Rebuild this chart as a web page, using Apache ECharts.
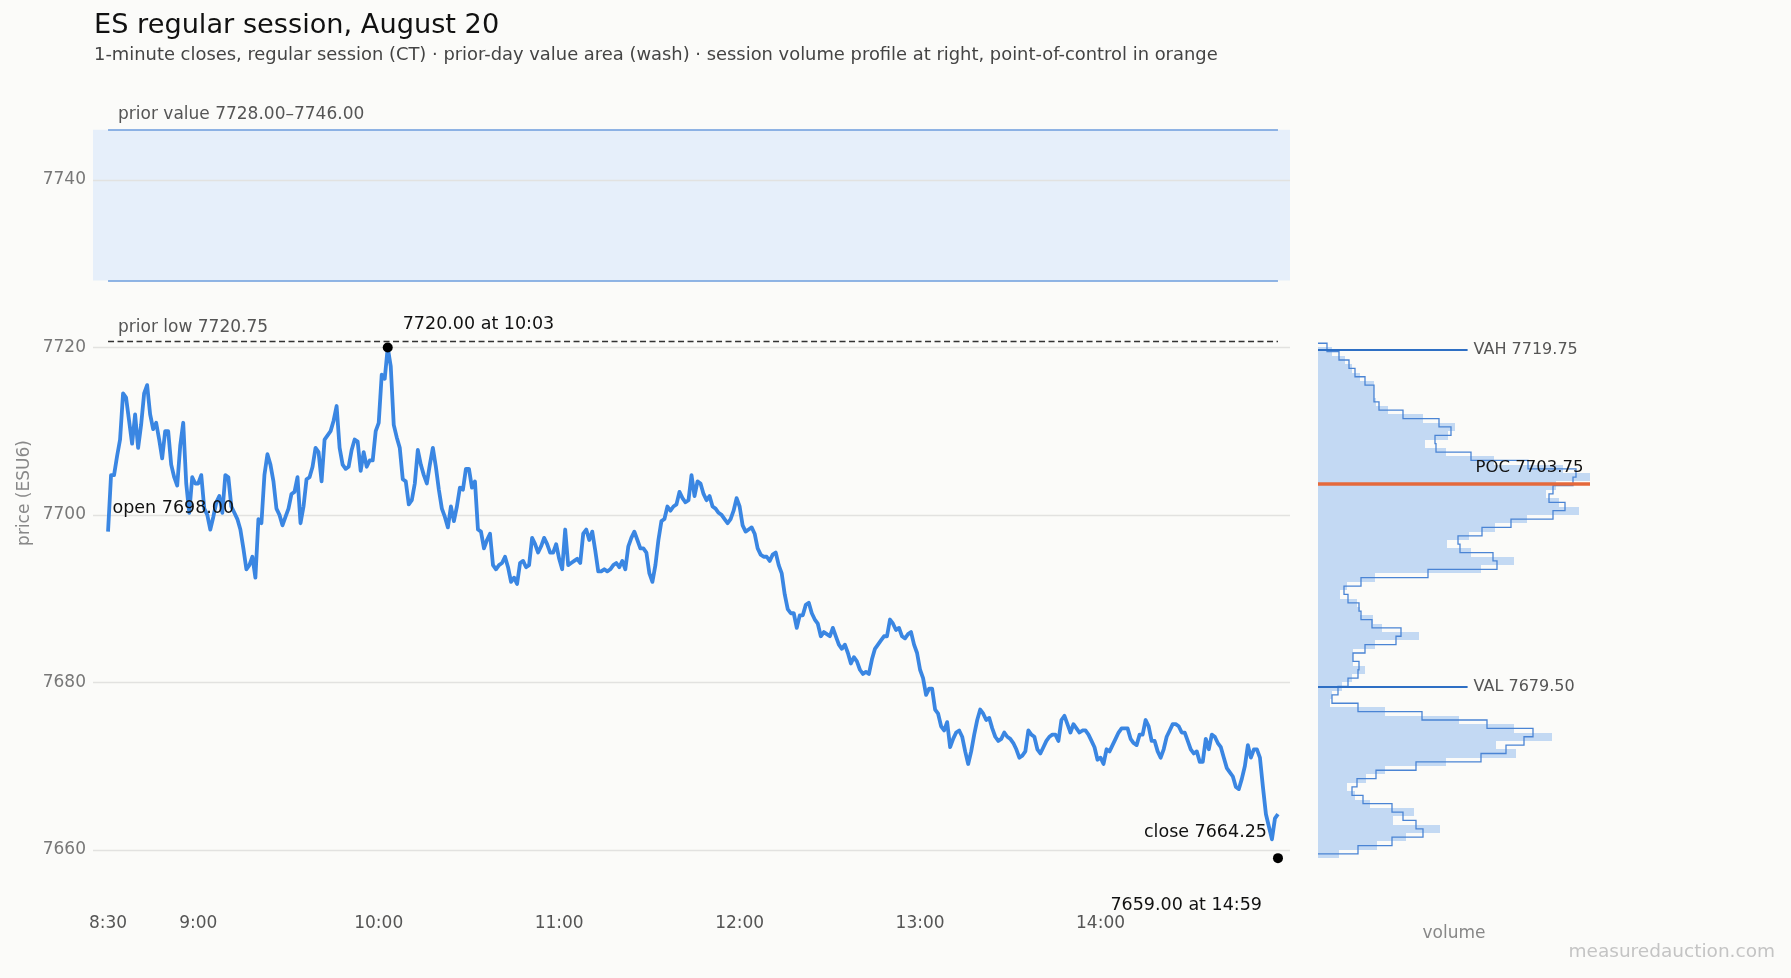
<!DOCTYPE html>
<html>
<head>
<meta charset="utf-8">
<title>ES regular session, August 20</title>
<script src="https://cdn.jsdelivr.net/npm/echarts@6.0.0/dist/echarts.min.js"></script>
<style>
  html, body { margin: 0; padding: 0; background: #fbfbf9; }
  #chart { width: 1791px; height: 978px; }
</style>
</head>
<body>
<div id="chart"></div>
<script>
// ES regular session, 1-minute closes from 8:30 (minute 0) to 14:59 (minute 389)

var closes = [
    7698.00, 7704.75, 7704.75, 7707.00, 7709.00, 7714.50, 7714.00, 7711.25, 7708.50, 7712.00,
    7708.00, 7710.75, 7714.50, 7715.50, 7712.00, 7710.25, 7711.00, 7709.00, 7706.75, 7710.00,
    7710.00, 7706.00, 7704.50, 7703.50, 7708.25, 7711.00, 7703.75, 7700.25, 7704.50, 7703.75,
    7703.75, 7704.75, 7700.75, 7700.00, 7698.25, 7699.75, 7701.50, 7702.25, 7700.25, 7704.75,
    7704.50, 7701.00, 7700.25, 7699.50, 7698.25, 7696.00, 7693.50, 7694.00, 7695.00, 7692.50,
    7699.50, 7699.00, 7704.75, 7707.25, 7706.00, 7704.00, 7700.75, 7700.00, 7698.75, 7699.75,
    7700.75, 7702.50, 7702.75, 7704.50, 7699.00, 7701.00, 7704.25, 7704.50, 7705.75, 7708.00,
    7707.50, 7704.00, 7709.00, 7709.50, 7710.00, 7711.25, 7713.00, 7708.00, 7706.00, 7705.50,
    7705.75, 7707.75, 7709.00, 7708.75, 7705.25, 7707.50, 7705.75, 7706.50, 7706.50, 7710.00,
    7711.00, 7716.75, 7716.25, 7720.00, 7717.75, 7710.75, 7709.25, 7708.00, 7704.25, 7704.00,
    7701.25, 7701.75, 7703.75, 7707.75, 7706.00, 7704.75, 7703.75, 7706.00, 7708.00, 7705.75,
    7703.00, 7700.75, 7699.75, 7698.50, 7701.00, 7699.25, 7701.00, 7703.25, 7703.00, 7705.50,
    7705.50, 7703.25, 7704.00, 7698.25, 7698.00, 7696.00, 7697.00, 7697.75, 7694.00, 7693.50,
    7694.00, 7694.25, 7695.00, 7693.75, 7692.00, 7692.50, 7691.75, 7694.25, 7694.50, 7693.75,
    7694.00, 7697.25, 7696.50, 7695.50, 7696.25, 7697.25, 7696.50, 7695.50, 7695.50, 7696.50,
    7694.75, 7693.50, 7698.25, 7694.00, 7694.25, 7694.50, 7694.75, 7694.25, 7697.75, 7698.25,
    7697.00, 7698.00, 7695.75, 7693.25, 7693.25, 7693.50, 7693.25, 7693.50, 7694.00, 7694.25,
    7693.75, 7694.50, 7693.50, 7696.25, 7697.25, 7698.00, 7697.00, 7696.00, 7696.00, 7695.50,
    7693.00, 7692.00, 7694.00, 7697.00, 7699.25, 7699.50, 7701.00, 7700.50, 7701.00, 7701.25,
    7702.75, 7702.00, 7701.50, 7701.75, 7704.75, 7702.25, 7704.00, 7703.75, 7702.50, 7701.75,
    7702.25, 7701.00, 7700.75, 7700.25, 7700.00, 7699.50, 7699.00, 7699.50, 7700.50, 7702.00,
    7701.00, 7698.75, 7698.00, 7698.25, 7698.50, 7697.75, 7696.00, 7695.25, 7695.00, 7695.00,
    7694.50, 7695.25, 7695.50, 7694.00, 7693.00, 7690.50, 7688.75, 7688.25, 7688.25, 7686.50,
    7688.00, 7688.00, 7689.25, 7689.50, 7688.25, 7687.50, 7687.00, 7685.50, 7686.00, 7685.75,
    7685.50, 7686.50, 7685.50, 7684.50, 7684.00, 7684.50, 7683.50, 7682.25, 7683.00, 7682.50,
    7681.50, 7681.00, 7681.25, 7681.00, 7682.75, 7684.00, 7684.50, 7685.00, 7685.50, 7685.50,
    7687.50, 7687.00, 7686.25, 7686.50, 7685.50, 7685.25, 7685.75, 7686.00, 7684.50, 7683.50,
    7681.50, 7680.50, 7678.50, 7679.25, 7679.25, 7676.75, 7676.25, 7674.75, 7674.25, 7675.25,
    7672.25, 7673.25, 7674.00, 7674.25, 7673.50, 7671.75, 7670.25, 7671.75, 7673.75, 7675.50,
    7676.75, 7676.25, 7675.50, 7675.75, 7674.50, 7673.50, 7673.00, 7673.25, 7674.00, 7673.50,
    7673.25, 7672.75, 7672.00, 7671.00, 7671.25, 7671.75, 7674.25, 7673.75, 7673.50, 7672.00,
    7671.50, 7672.25, 7673.00, 7673.50, 7673.75, 7673.75, 7673.00, 7675.50, 7676.00, 7675.00,
    7674.00, 7675.00, 7674.50, 7674.00, 7674.25, 7674.25, 7673.75, 7673.00, 7672.25, 7670.75,
    7671.00, 7670.25, 7672.00, 7671.75, 7672.50, 7673.25, 7674.00, 7674.50, 7674.50, 7674.50,
    7673.25, 7672.75, 7672.50, 7673.75, 7673.75, 7675.50, 7674.75, 7673.00, 7673.00, 7671.75,
    7671.00, 7672.00, 7673.50, 7674.25, 7675.00, 7675.00, 7674.75, 7674.00, 7674.00, 7673.00,
    7672.00, 7671.50, 7671.75, 7670.50, 7670.50, 7673.25, 7672.00, 7673.75, 7673.50, 7672.75,
    7672.25, 7671.00, 7669.75, 7669.25, 7668.75, 7667.50, 7667.25, 7668.50, 7670.00, 7672.50,
    7671.00, 7672.00, 7672.00, 7671.00, 7667.50, 7664.25, 7662.75, 7661.25, 7663.75, 7664.25
];

var timeTickMinutes = [0, 30, 90, 150, 210, 270, 330];
var timeTickLabels = ['8:30', '9:00', '10:00', '11:00', '12:00', '13:00', '14:00'];
var priceTicks = [7660, 7680, 7700, 7720, 7740];

var priorValueLow = 7728.00;
var priorValueHigh = 7746.00;
var priorLow = 7720.75;
var sessionHigh = [93, 7720.00];   // 10:03
var sessionLow = [389, 7659.00];   // 14:59
var openPrice = 7698.00;
var closePrice = 7664.25;

// session volume profile, 1-point buckets (lower edge of bucket), top to bottom
var profileLevels = [
    7719, 7718, 7717, 7716, 7715, 7714, 7713, 7712, 7711, 7710,
    7709, 7708, 7707, 7706, 7705, 7704, 7703, 7702, 7701, 7700,
    7699, 7698, 7697, 7696, 7695, 7694, 7693, 7692, 7691, 7690,
    7689, 7688, 7687, 7686, 7685, 7684, 7683, 7682, 7681, 7680,
    7679, 7678, 7677, 7676, 7675, 7674, 7673, 7672, 7671, 7670,
    7669, 7668, 7667, 7666, 7665, 7664, 7663, 7662, 7661, 7660, 7659
];
var profileVolume = [
    14, 27, 34, 42, 56, 56, 58, 70, 105, 137,
    130, 107, 128, 176, 245, 272, 238, 228, 241, 261,
    209, 177, 151, 129, 153, 196, 163, 57, 29, 22,
    39, 42, 55, 64, 101, 57, 35, 35, 47, 34,
    24, 14, 12, 67, 141, 196, 234, 178, 198, 128,
    67, 48, 29, 37, 52, 96, 75, 122, 88, 59, 21
];

// step outline of the profile, buckets centred on whole points
var outlineLevels = [
    7720, 7719, 7718, 7717, 7716, 7715, 7714, 7713, 7712, 7711,
    7710, 7709, 7708, 7707, 7706, 7705, 7704, 7703, 7702, 7701,
    7700, 7699, 7698, 7697, 7696, 7695, 7694, 7693, 7692, 7691,
    7690, 7689, 7688, 7687, 7686, 7685, 7684, 7683, 7682, 7681,
    7680, 7679, 7678, 7677, 7676, 7675, 7674, 7673, 7672, 7671,
    7670, 7669, 7668, 7667, 7666, 7665, 7664, 7663, 7662, 7661, 7660
];
var outlineVolume = [
    9, 21, 31, 37, 47, 56, 56, 61, 85, 121,
    133, 117, 118, 153, 210, 258, 255, 235, 231, 247,
    235, 193, 164, 140, 142, 175, 179, 110, 43, 26,
    30, 41, 43, 54, 83, 78, 47, 35, 41, 40,
    30, 20, 14, 40, 104, 169, 215, 206, 188, 163,
    98, 58, 39, 34, 45, 74, 85, 98, 105, 74, 40
];

var vah = 7719.75;
var val = 7679.50;
var poc = 7703.75;

var FONT = 'DejaVu Sans';
var Y_MIN = 7654, Y_MAX = 7748;

var chart = echarts.init(document.getElementById('chart'), null, {renderer: 'canvas'});

var priceData = closes.map(function (c, i) { return [i, c]; });
var profileData = profileLevels.map(function (lv, i) { return [lv, profileVolume[i]]; });
var profileMax = Math.max.apply(null, profileVolume);
var vaLineLen = profileMax * 0.55;

function minuteLabel(v) {
    var k = timeTickMinutes.indexOf(v);
    return k >= 0 ? timeTickLabels[k] : '';
}

var option = {
    backgroundColor: '#fbfbf9',
    animation: false,
    textStyle: {fontFamily: FONT},
    grid: [
        {left: 93, top: 113, width: 1197, height: 787},
        {left: 1318, top: 113, width: 272, height: 787}
    ],
    xAxis: [
        {
            type: 'value',
            gridIndex: 0,
            min: -5,
            max: 393,
            axisLine: {show: false},
            axisTick: {show: false},
            splitLine: {show: false},
            axisLabel: {
                customValues: timeTickMinutes,
                formatter: minuteLabel,
                color: '#555',
                fontSize: 17,
                fontFamily: FONT,
                margin: 15
            }
        },
        {
            type: 'value',
            gridIndex: 1,
            min: 0,
            max: profileMax,
            name: 'volume',
            nameLocation: 'middle',
            nameGap: 25,
            nameTextStyle: {color: '#888', fontSize: 17, fontFamily: FONT},
            axisLine: {show: false},
            axisTick: {show: false},
            axisLabel: {show: false},
            splitLine: {show: false}
        }
    ],
    yAxis: [
        {
            type: 'value',
            gridIndex: 0,
            min: Y_MIN,
            max: Y_MAX,
            axisLine: {show: false},
            axisTick: {show: false},
            splitLine: {show: false},
            axisLabel: {
                customValues: priceTicks,
                formatter: function (v) { return String(v); },
                color: '#777',
                fontSize: 17,
                fontFamily: FONT,
                margin: 7
            }
        },
        {
            type: 'value',
            gridIndex: 1,
            min: Y_MIN,
            max: Y_MAX,
            show: false,
            splitLine: {show: false}
        }
    ],
    series: [
        {
            // prior-day value area wash + grid lines
            name: 'prior value',
            type: 'line',
            xAxisIndex: 0,
            yAxisIndex: 0,
            data: [],
            silent: true,
            markArea: {
                z: 0,
                silent: true,
                itemStyle: {color: '#e6effa'},
                data: [[{yAxis: priorValueLow}, {yAxis: priorValueHigh}]]
            },
            markLine: {
                z: 1,
                silent: true,
                symbol: 'none',
                label: {show: false},
                lineStyle: {color: '#e2e2e0', width: 1.3, type: 'solid'},
                data: priceTicks.map(function (p) { return {yAxis: p}; })
            }
        },
        {
            name: 'levels',
            type: 'line',
            xAxisIndex: 0,
            yAxisIndex: 0,
            data: [],
            silent: true,
            markLine: {
                z: 2,
                silent: true,
                symbol: 'none',
                label: {show: false},
                data: [
                    [{coord: [0, priorValueHigh], lineStyle: {color: '#6d9ddd', width: 1.6, type: 'solid'}},
                        {coord: [closes.length - 1, priorValueHigh]}],
                    [{coord: [0, priorValueLow], lineStyle: {color: '#6d9ddd', width: 1.6, type: 'solid'}},
                        {coord: [closes.length - 1, priorValueLow]}],
                    [{coord: [0, priorLow], lineStyle: {color: '#333', width: 1.4, type: [6, 3.5]}},
                        {coord: [closes.length - 1, priorLow]}]
                ]
            }
        },
        {
            name: 'ESU6',
            type: 'line',
            xAxisIndex: 0,
            yAxisIndex: 0,
            data: priceData,
            showSymbol: false,
            z: 3,
            lineStyle: {color: '#3a86e2', width: 3.8, join: 'round'}
        },
        {
            name: 'extremes',
            type: 'scatter',
            xAxisIndex: 0,
            yAxisIndex: 0,
            data: [sessionHigh, sessionLow],
            symbolSize: 10,
            z: 4,
            itemStyle: {color: '#000', opacity: 1}
        },
        {
            // volume profile bars
            name: 'volume profile',
            type: 'custom',
            xAxisIndex: 1,
            yAxisIndex: 1,
            data: profileData,
            z: 2,
            renderItem: function (params, api) {
                var lo = api.value(0);
                var vol = api.value(1);
                var a = api.coord([0, lo + 1]);
                var b = api.coord([vol, lo]);
                var y0 = Math.round(a[1]);
                var y1 = Math.round(b[1]);
                return {
                    type: 'rect',
                    shape: {x: Math.round(a[0]), y: y0, width: b[0] - Math.round(a[0]), height: y1 - y0},
                    style: {fill: '#c3d9f3'}
                };
            },
            markLine: {
                z: 5,
                silent: true,
                symbol: 'none',
                data: [
                    [{coord: [0, vah], label: {formatter: 'VAH ' + vah.toFixed(2)}}, {coord: [vaLineLen, vah]}],
                    [{coord: [0, val], label: {formatter: 'VAL ' + val.toFixed(2)}}, {coord: [vaLineLen, val]}],
                    [{coord: [0, poc], label: {show: false},
                        lineStyle: {color: '#e5693b', width: 3.6}}, {coord: [profileMax, poc]}]
                ],
                lineStyle: {color: '#2e6fc4', width: 2.2, type: 'solid'},
                label: {
                    show: true,
                    position: 'end',
                    distance: 6,
                    color: '#555',
                    fontSize: 16,
                    fontFamily: FONT
                }
            }
        },
        {
            // step outline over the profile
            name: 'profile outline',
            type: 'custom',
            xAxisIndex: 1,
            yAxisIndex: 1,
            data: [[0, 0]],
            z: 3,
            renderItem: function (params, api) {
                var pts = [api.coord([0, outlineLevels[0] + 0.5])];
                for (var i = 0; i < outlineLevels.length; i++) {
                    pts.push(api.coord([outlineVolume[i], outlineLevels[i] + 0.5]));
                    pts.push(api.coord([outlineVolume[i], outlineLevels[i] - 0.5]));
                }
                pts.push(api.coord([0, outlineLevels[outlineLevels.length - 1] - 0.5]));
                return {
                    type: 'polyline',
                    shape: {points: pts},
                    style: {stroke: '#4a84d4', lineWidth: 1.3, fill: null}
                };
            }
        }
    ]
};

chart.setOption(option);

// text annotations anchored to data points
function px(pt) { return chart.convertToPixel({gridIndex: 0}, pt); }
function px1(pt) { return chart.convertToPixel({gridIndex: 1}, pt); }

function label(text, x, y, align, color, size) {
    return {
        type: 'text',
        x: x,
        y: y,
        z: 100,
        style: {
            text: text,
            align: align,
            verticalAlign: 'middle',
            fill: color,
            fontSize: size,
            fontFamily: FONT
        }
    };
}

var pPV = px([0, priorValueHigh]);
var pPL = px([0, priorLow]);
var pHi = px(sessionHigh);
var pLo = px(sessionLow);
var pOpen = px([0, openPrice]);
var pClose = px([closes.length - 1, closePrice]);
var pPoc = px1([0, poc]);

chart.setOption({
    graphic: [
        label('ES regular session, August 20', 94, 26, 'left', '#111', 27.2),
        label('1-minute closes, regular session (CT) \u00b7 prior-day value area (wash) \u00b7 session volume profile at right, point-of-control in orange',
            94, 55, 'left', '#444', 17.9),
        label('prior value ' + priorValueLow.toFixed(2) + '\u2013' + priorValueHigh.toFixed(2),
            pPV[0] + 10, pPV[1] - 15, 'left', '#555', 17),
        label('prior low ' + priorLow.toFixed(2), pPL[0] + 10, pPL[1] - 14, 'left', '#555', 17),
        label(sessionHigh[1].toFixed(2) + ' at 10:03', pHi[0] + 15, pHi[1] - 23, 'left', '#111', 17.5),
        label('open ' + openPrice.toFixed(2), pOpen[0] + 4.5, pOpen[1] - 23, 'left', '#111', 17.5),
        label('close ' + closePrice.toFixed(2), pClose[0] - 11, pClose[1] + 18.5, 'right', '#111', 17.5),
        label(sessionLow[1].toFixed(2) + ' at 14:59', pLo[0] - 16, pLo[1] + 47, 'right', '#111', 17.5),
        label('POC ' + poc.toFixed(2), pPoc[0] + 157.5, pPoc[1] - 16, 'left', '#111', 16.5),
        {
            type: 'text',
            x: 25,
            y: 493,
            rotation: Math.PI / 2,
            z: 100,
            style: {
                text: 'price (ESU6)',
                align: 'center',
                verticalAlign: 'middle',
                fill: '#888',
                fontSize: 17,
                fontFamily: FONT
            }
        },
        label('measuredauction.com', 1775, 952, 'right', '#c4c4c4', 18.5)
    ]
});
</script>
</body>
</html>
